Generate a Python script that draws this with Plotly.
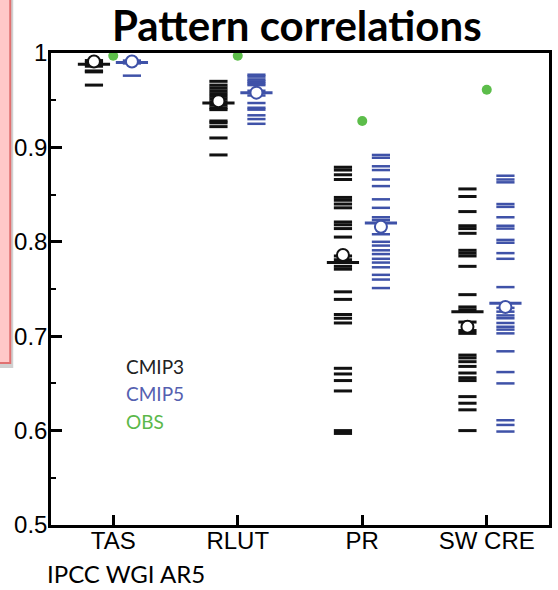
import plotly.graph_objects as go

# ---- data -----------------------------------------------------------------
variables = ["TAS", "RLUT", "PR", "SW CRE"]

cmip3_models = [
    [0.992, 0.990, 0.988, 0.986, 0.981, 0.980, 0.966],
    [0.970, 0.966, 0.963, 0.960, 0.957, 0.954, 0.951, 0.948, 0.945, 0.942,
     0.940, 0.928, 0.926, 0.922, 0.910, 0.892],
    [0.879, 0.876, 0.871, 0.866, 0.847, 0.844, 0.840, 0.836, 0.821, 0.818,
     0.814, 0.805, 0.785, 0.781, 0.774, 0.771, 0.747, 0.739, 0.723, 0.719,
     0.714, 0.666, 0.660, 0.653, 0.642, 0.600, 0.597],
    [0.856, 0.848, 0.832, 0.817, 0.814, 0.809, 0.791, 0.788, 0.785, 0.774,
     0.744, 0.731, 0.728, 0.715, 0.706, 0.703, 0.680, 0.677, 0.673, 0.668,
     0.661, 0.656, 0.653, 0.636, 0.629, 0.622, 0.600],
]
cmip5_models = [
    [0.992, 0.989, 0.976],
    [0.977, 0.975, 0.972, 0.970, 0.968, 0.966, 0.960, 0.955, 0.947, 0.942,
     0.940, 0.934, 0.930, 0.925],
    [0.892, 0.889, 0.880, 0.876, 0.866, 0.859, 0.845, 0.836, 0.826, 0.823,
     0.808, 0.800, 0.796, 0.791, 0.787, 0.782, 0.778, 0.773, 0.765, 0.760,
     0.751],
    [0.870, 0.866, 0.863, 0.840, 0.837, 0.826, 0.817, 0.814, 0.802, 0.799,
     0.788, 0.782, 0.752, 0.730, 0.726, 0.722, 0.719, 0.714, 0.710, 0.707,
     0.703, 0.684, 0.662, 0.650, 0.611, 0.606, 0.599],
]
cmip3_median = [0.988, 0.947, 0.778, 0.726]
cmip5_median = [0.990, 0.958, 0.820, 0.735]
cmip3_mmm = [0.991, 0.949, 0.786, 0.710]
cmip5_mmm = [0.991, 0.958, 0.816, 0.731]
obs = [0.997, 0.997, 0.928, 0.961]

y_ticks = [0.5, 0.6, 0.7, 0.8, 0.9, 1.0]
y_tick_text = ["0.5", "0.6", "0.7", "0.8", "0.9", "1"]

# ---- style ----------------------------------------------------------------
BLACK = "#111111"
BLUE = "#3f52a8"
GREEN = "#5cbd4a"
OFF3, OFF5 = -0.155, 0.15

W, H = 558, 590
L, R, T, B = 51, 552, 53, 525


def px_x(px):
    return (px - L) / (R - L)


def px_y(py):
    return (B - py) / (B - T)


fig = go.Figure()


def dashes(vals_by_var, offset, color, size, width):
    xs, ys = [], []
    for i, vals in enumerate(vals_by_var):
        xs += [i + 1 + offset] * len(vals)
        ys += vals
    fig.add_trace(go.Scatter(
        x=xs, y=ys, mode="markers", hoverinfo="y", showlegend=False,
        marker=dict(symbol="line-ew", size=size, color=color,
                    line=dict(color=color, width=width))))


def per_var(vals):
    return [[v] for v in vals]


dashes(cmip3_models, OFF3, BLACK, 13, 3)
dashes(cmip5_models, OFF5, BLUE, 13, 2.5)
dashes(per_var(cmip3_median), OFF3, BLACK, 23, 3)
dashes(per_var(cmip5_median), OFF5, BLUE, 23, 3)

for vals, off, col in [(cmip3_mmm, OFF3, BLACK), (cmip5_mmm, OFF5, BLUE)]:
    fig.add_trace(go.Scatter(
        x=[i + 1 + off for i in range(len(vals))], y=vals, mode="markers",
        showlegend=False,
        marker=dict(symbol="circle", size=12, color="white",
                    line=dict(color=col, width=2))))

fig.add_trace(go.Scatter(
    x=[i + 1 for i in range(len(obs))], y=obs, mode="markers",
    showlegend=False,
    marker=dict(symbol="circle", size=10, color=GREEN, line=dict(width=0))))

# ---- text -----------------------------------------------------------------
anns = [
    dict(text="<b>Pattern correlations</b>", x=px_x(298), y=px_y(25),
         font=dict(family="Lato", size=42, color="black")),
    dict(text="IPCC WGI AR5", x=px_x(45), y=px_y(573), xanchor="left",
         font=dict(family="Lato", size=24, color="black")),
    dict(text="CMIP3", x=px_x(124), y=px_y(366), xanchor="left",
         font=dict(family="Lato", size=19, color="#222222")),
    dict(text="CMIP5", x=px_x(124), y=px_y(393), xanchor="left",
         font=dict(family="Lato", size=19, color="#5560b0")),
    dict(text="OBS", x=px_x(124), y=px_y(421), xanchor="left",
         font=dict(family="Lato", size=19, color="#5cb84a")),
]
for a in anns:
    a.setdefault("xanchor", "center")
    fig.add_annotation(xref="paper", yref="paper", yanchor="middle",
                       showarrow=False, **a)

# pink note box at the left edge, with its drop shadow
fig.add_shape(type="rect", xref="paper", yref="paper", layer="above",
              x0=px_x(-5), x1=px_x(13), y0=px_y(-5), y1=px_y(368),
              fillcolor="rgba(120,120,120,0.35)", line=dict(width=0))
fig.add_shape(type="rect", xref="paper", yref="paper", layer="above",
              x0=px_x(-5), x1=px_x(10), y0=px_y(-5), y1=px_y(363),
              fillcolor="#ffc8c8", line=dict(color="#e07070", width=2))

axis_font = dict(family="Liberation Sans, Arial", size=24, color="black")
fig.update_layout(
    width=W, height=H,
    margin=dict(l=L, r=W - R, t=T, b=H - B, pad=0),
    paper_bgcolor="white", plot_bgcolor="white",
    xaxis=dict(range=[0.5, 4.5], tickvals=[1, 2, 3, 4], ticktext=variables,
               ticks="inside", ticklen=10, tickwidth=2.5, tickcolor="black",
               showline=True, linecolor="black", linewidth=2.5, mirror=True,
               showgrid=False, zeroline=False, tickfont=axis_font,
               ticklabelstandoff=-8),
    yaxis=dict(range=[0.5, 1.0], tickvals=y_ticks, ticktext=y_tick_text,
               ticks="inside", ticklen=11, tickwidth=2.5, tickcolor="black",
               showline=True, linecolor="black", linewidth=2.5, mirror=True,
               showgrid=False, zeroline=False, tickfont=axis_font,
               ticklabelstandoff=-4,
               minor=dict(ticks="inside", ticklen=5, tickwidth=2,
                          tickcolor="black", tick0=0.5, dtick=0.05)),
)

fig.write_html("out.html")
